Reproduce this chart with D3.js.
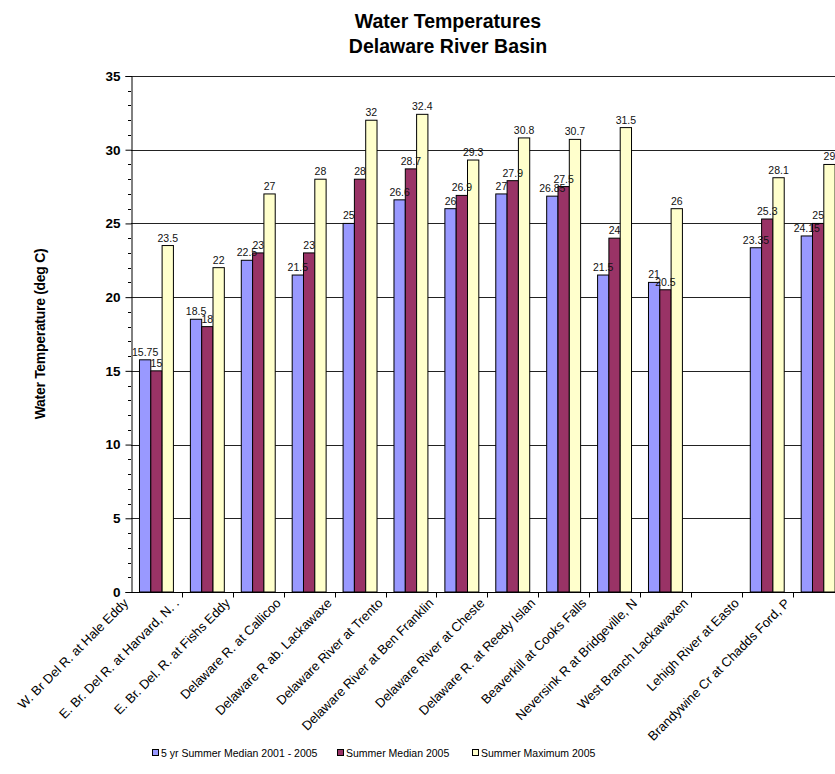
<!DOCTYPE html>
<html>
<head>
<meta charset="utf-8">
<script src="https://cdn.jsdelivr.net/npm/d3@7"></script>
<style>
  html, body { margin: 0; padding: 0; background: #fff; }
  svg { display: block; font-family: Arial, "Liberation Sans", sans-serif; }
</style>
</head>
<body>
<svg id="chart" width="835" height="774"></svg>
<script>
const categories = [
  "W. Br Del R. at Hale Eddy",
  "E. Br. Del R. at Harvard, N. .",
  "E. Br. Del. R. at Fishs Eddy",
  "Delaware R. at Callicoo",
  "Delaware R ab. Lackawaxe",
  "Delaware River at Trento",
  "Delaware River at Ben Franklin",
  "Delaware River at Cheste",
  "Delaware R. at Reedy Islan",
  "Beaverkill at Cooks Falls",
  "Neversink R at Bridgeville, N",
  "West Branch Lackawaxen",
  "Lehigh River at Easto",
  "Brandywine Cr at Chadds Ford, P"
];
const seriesNames = ["5 yr Summer Median 2001 - 2005", "Summer Median 2005", "Summer Maximum 2005"];
const median5yr   = [15.75, 18.5, 22.5, 21.5, 25, 26.6, 26, 27, 26.85, 21.5, 21, null, 23.35, 24.15];
const median2005  = [15, 18, 23, 23, 28, 28.7, 26.9, 27.9, 27.5, 24, 20.5, null, 25.3, 25];
const maximum2005 = [23.5, 22, 27, 28, 32, 32.4, 29.3, 30.8, 30.7, 31.5, 26, null, 28.1, 29];
const yTicks = [0, 5, 10, 15, 20, 25, 30, 35];
const colors = ["#9999FF", "#993366", "#FFFFCC"];

const series = [median5yr, median2005, maximum2005];
const svg = d3.select("#chart");

const pLeft = 131, pTop = 76, pBottom = 592;
const bandW = 50.9;
const pRight = pLeft + bandW * categories.length;

const x = d3.scaleBand().domain(categories).range([pLeft, pRight]).padding(0);
const y = d3.scaleLinear().domain([0, 35]).range([pBottom, pTop]);
const barW = x.bandwidth() / 4.5;
const xs = d3.scaleBand().domain([0, 1, 2]).range([barW * 0.75, barW * 3.75]).padding(0);

// gridlines
svg.append("g").selectAll("line").data(yTicks.filter(d => d > 0)).join("line")
  .attr("x1", pLeft).attr("x2", pRight)
  .attr("y1", d => Math.round(y(d)) + 0.5).attr("y2", d => Math.round(y(d)) + 0.5)
  .attr("stroke", "#222").attr("stroke-width", 1);

// bars
const gBars = svg.append("g");
series.forEach((vals, si) => {
  gBars.append("g").selectAll("rect")
    .data(vals.map((v, i) => ({ v, c: categories[i] })).filter(d => d.v != null))
    .join("rect")
    .attr("x", d => x(d.c) + xs(si))
    .attr("y", d => y(d.v))
    .attr("width", xs.bandwidth())
    .attr("height", d => y(0) - y(d.v))
    .attr("fill", colors[si])
    .attr("stroke", "#000").attr("stroke-width", 1);
});

// data labels
series.forEach((vals, si) => {
  svg.append("g").selectAll("text")
    .data(vals.map((v, i) => ({ v, c: categories[i] })).filter(d => d.v != null))
    .join("text")
    .attr("x", d => x(d.c) + xs(si) + xs.bandwidth() / 2)
    .attr("y", d => y(d.v) - 4)
    .attr("text-anchor", "middle")
    .attr("font-size", "10.5px")
    .attr("fill", "#111")
    .text(d => d.v);
});

// y axis
const yAxis = d3.axisLeft(y).tickValues(yTicks).tickSize(6).tickPadding(5).tickFormat(d3.format("d"));
const gy = svg.append("g").attr("transform", `translate(${pLeft + 0.5},0)`).call(yAxis);
gy.select(".domain").attr("stroke", "#000");
gy.selectAll(".tick line").attr("stroke", "#000");
gy.selectAll(".tick text").attr("font-size", "13.5px").attr("font-weight", "bold").attr("fill", "#000")
  .attr("font-family", "Arial, 'Liberation Sans', sans-serif");
// minor ticks
const minor = d3.range(0, 36).filter(d => d % 5 !== 0);
svg.append("g").selectAll("line").data(minor).join("line")
  .attr("x1", pLeft - 3).attr("x2", pLeft)
  .attr("y1", d => Math.round(y(d)) + 0.5).attr("y2", d => Math.round(y(d)) + 0.5)
  .attr("stroke", "#000");

// x axis
const gx = svg.append("g").attr("transform", `translate(0,${pBottom + 0.5})`);
gx.append("line").attr("x1", pLeft).attr("x2", pRight).attr("stroke", "#000");
gx.selectAll("line.tk").data(categories.slice(1)).join("line").attr("class", "tk")
  .attr("x1", d => Math.round(x(d)) + 0.5).attr("x2", d => Math.round(x(d)) + 0.5)
  .attr("y1", 0).attr("y2", 5).attr("stroke", "#000");

// category labels
svg.append("g").selectAll("text").data(categories).join("text")
  .attr("transform", d => `translate(${x(d) - 2},${pBottom + 12}) rotate(-45)`)
  .attr("text-anchor", "end")
  .attr("font-size", "13px")
  .attr("fill", "#000")
  .text(d => d);

// title
const title = svg.append("text").attr("x", 448).attr("text-anchor", "middle")
  .attr("font-size", "19.5px").attr("font-weight", "bold").attr("fill", "#000");
title.append("tspan").attr("x", 448).attr("y", 28).text("Water Temperatures");
title.append("tspan").attr("x", 448).attr("y", 53).text("Delaware River Basin");

// y axis title
svg.append("text")
  .attr("transform", `translate(45,${(pTop + pBottom) / 2}) rotate(-90)`)
  .attr("text-anchor", "middle")
  .attr("font-size", "14px").attr("font-weight", "bold")
  .attr("letter-spacing", "-0.3px")
  .attr("fill", "#000")
  .text("Water Temperature (deg C)");

// legend
const legendX = [152, 337, 472];
const lg = svg.append("g");
seriesNames.forEach((name, i) => {
  lg.append("rect").attr("x", legendX[i] + 0.5).attr("y", 749.5).attr("width", 6).attr("height", 6)
    .attr("fill", colors[i]).attr("stroke", "#000");
  lg.append("text").attr("x", legendX[i] + 9).attr("y", 757)
    .attr("font-size", "10.5px").attr("fill", "#000").text(name);
});
</script>
</body>
</html>
